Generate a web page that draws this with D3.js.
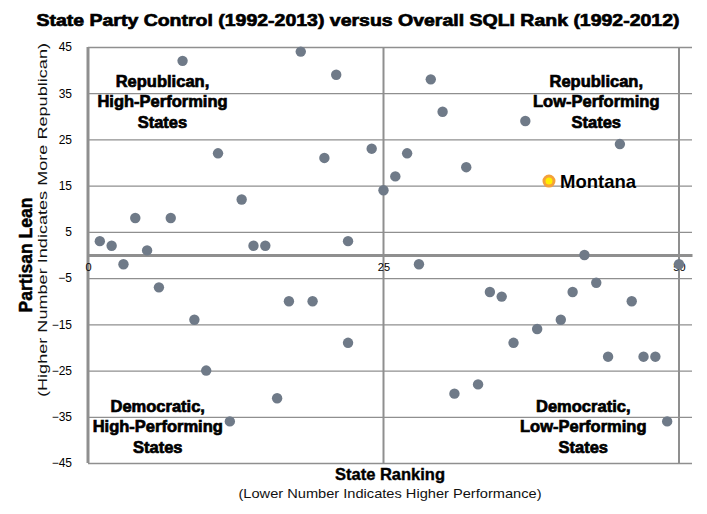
<!DOCTYPE html>
<html>
<head>
<meta charset="utf-8">
<script src="https://cdn.jsdelivr.net/npm/d3@7"></script>
<style>
body { margin: 0; background: #fff; }
text { font-family: "Liberation Sans", Arial, sans-serif; }
</style>
</head>
<body>
<svg width="707" height="514"></svg>
<script>
// data
const ranks = [8, 18, 21, 11, 20, 24, 25, 13, 4, 7, 1, 2, 5, 14, 15, 22,
	29, 30, 37, 27, 32, 26, 45,
	3, 6, 17, 19, 9, 22, 10, 16, 12,
	28, 50, 42, 43, 34, 35, 41, 46, 40, 38, 36, 44, 47, 48, 31, 33, 49];
const leans = [42, 44, 39, 22, 21, 23, 14, 12, 8, 8, 3, 2, 1, 2, 2, 3,
	38, 31, 29, 22, 19, 17, 24,
	-2, -7, -10, -10, -14, -19, -25, -31, -36,
	-2, -2, 0, -6, -8, -9, -8, -10, -14, -16, -19, -22, -22, -22, -30, -28, -36];
const highlight = { name: "Montana", rank: 39, lean: 16 };
const yTicks = [-45, -35, -25, -15, -5, 5, 15, 25, 35, 45];
const xTicks = [0, 25, 50];
const quadrants = [
	{ lines: ["Republican,", "High-Performing", "States"], rank: 6.3, lean: 36.4 },
	{ lines: ["Republican,", "Low-Performing", "States"], rank: 43, lean: 36.4 },
	{ lines: ["Democratic,", "High-Performing", "States"], rank: 5.9, lean: -33.9 },
	{ lines: ["Democratic,", "Low-Performing", "States"], rank: 41.9, lean: -33.9 }
];

const svg = d3.select("svg");
const margin = { top: 47, right: 15, bottom: 51, left: 88 };
const W = +svg.attr("width"), H = +svg.attr("height");

const x = d3.scaleLinear().domain([0, 51.1]).range([margin.left, W - margin.right]);
const y = d3.scaleLinear().domain([-45, 45]).range([H - margin.bottom, margin.top]);

// horizontal grid + y labels
svg.append("g")
	.attr("transform", `translate(${margin.left},0)`)
	.call(d3.axisLeft(y).tickValues(yTicks).tickSize(-(x(51.1) - x(0))).tickPadding(16))
	.call(g => g.select(".domain").remove())
	.call(g => g.selectAll(".tick line").attr("stroke", "#8f8f8f").attr("stroke-width", 1.3))
	.call(g => g.selectAll(".tick text").attr("font-size", 12).attr("fill", "#000")
		.attr("font-family", "'DejaVu Sans Condensed', 'Liberation Sans', sans-serif"));

// vertical grid at 25 and 50
svg.append("g")
	.selectAll("line")
	.data(xTicks.slice(1))
	.join("line")
	.attr("x1", d => x(d)).attr("x2", d => x(d))
	.attr("y1", y(45)).attr("y2", y(-45))
	.attr("stroke", "#8f8f8f").attr("stroke-width", 2);

// y axis line
svg.append("line")
	.attr("x1", x(0)).attr("x2", x(0))
	.attr("y1", y(45)).attr("y2", y(-45))
	.attr("stroke", "#8f8f8f").attr("stroke-width", 3);

// x axis at zero
svg.append("g")
	.attr("transform", `translate(0,${y(0)})`)
	.call(d3.axisBottom(x).tickValues(xTicks).tickSize(0).tickPadding(8))
	.call(g => g.select(".domain").attr("stroke", "#8f8f8f").attr("stroke-width", 3))
	.call(g => g.selectAll(".tick text").attr("font-size", 11).attr("fill", "#000")
		.attr("font-family", "'DejaVu Sans Condensed', 'Liberation Sans', sans-serif"));

// points
const pts = ranks.map((r, i) => ({ rank: r, lean: leans[i] }));
svg.append("g")
	.selectAll("circle")
	.data(pts)
	.join("circle")
	.attr("cx", d => x(d.rank))
	.attr("cy", d => y(d.lean))
	.attr("r", 5.2)
	.attr("fill", "#6f7a88");

// highlighted state
svg.append("circle")
	.attr("cx", x(highlight.rank)).attr("cy", y(highlight.lean))
	.attr("r", 5).attr("fill", "#ffee00")
	.attr("stroke", "#f4a13a").attr("stroke-width", 3);
svg.append("text")
	.attr("x", x(highlight.rank) + 11).attr("y", y(highlight.lean))
	.attr("dy", "0.35em")
	.attr("font-size", 18.5).attr("font-weight", "bold")
	.text(highlight.name);

// quadrant labels
const q = svg.append("g").selectAll("text").data(quadrants).join("text")
	.attr("text-anchor", "middle")
	.attr("font-size", 16.5).attr("font-weight", "bold")
	.attr("stroke", "#000").attr("stroke-width", 0.7)
	.attr("x", d => x(d.rank)).attr("y", d => y(d.lean));
q.selectAll("tspan").data(d => d.lines.map(l => ({ l, cx: x(d.rank) }))).join("tspan")
	.attr("x", d => d.cx)
	.attr("dy", (d, i) => i ? 20.5 : 0)
	.text(d => d.l);

// title
svg.append("text")
	.attr("x", 358).attr("y", 26)
	.attr("text-anchor", "middle")
	.attr("font-size", 17).attr("font-weight", "bold")
	.attr("stroke", "#000").attr("stroke-width", 0.7)
	.attr("textLength", 643).attr("lengthAdjust", "spacingAndGlyphs")
	.text("State Party Control (1992-2013) versus Overall SQLI Rank (1992-2012)");

// y axis titles
svg.append("text")
	.attr("transform", "translate(32,255) rotate(-90)")
	.attr("text-anchor", "middle")
	.attr("font-size", 17.5).attr("font-weight", "bold")
	.attr("stroke", "#000").attr("stroke-width", 0.5)
	.text("Partisan Lean");
svg.append("text")
	.attr("transform", "translate(47,220) rotate(-90)")
	.attr("text-anchor", "middle")
	.attr("font-size", 13).attr("fill", "#111")
	.attr("font-family", "'DejaVu Sans Condensed', 'Liberation Sans', sans-serif")
	.attr("textLength", 354).attr("lengthAdjust", "spacingAndGlyphs")
	.text("(Higher Number Indicates More Republican)");

// x axis titles
svg.append("text")
	.attr("x", 390).attr("y", 480)
	.attr("text-anchor", "middle")
	.attr("font-size", 16.5).attr("font-weight", "bold")
	.attr("stroke", "#000").attr("stroke-width", 0.4)
	.text("State Ranking");
svg.append("text")
	.attr("x", 390).attr("y", 498)
	.attr("text-anchor", "middle")
	.attr("font-size", 13).attr("fill", "#111")
	.attr("font-family", "'DejaVu Sans Condensed', 'Liberation Sans', sans-serif")
	.attr("textLength", 303).attr("lengthAdjust", "spacingAndGlyphs")
	.text("(Lower Number Indicates Higher Performance)");
</script>
</body>
</html>
